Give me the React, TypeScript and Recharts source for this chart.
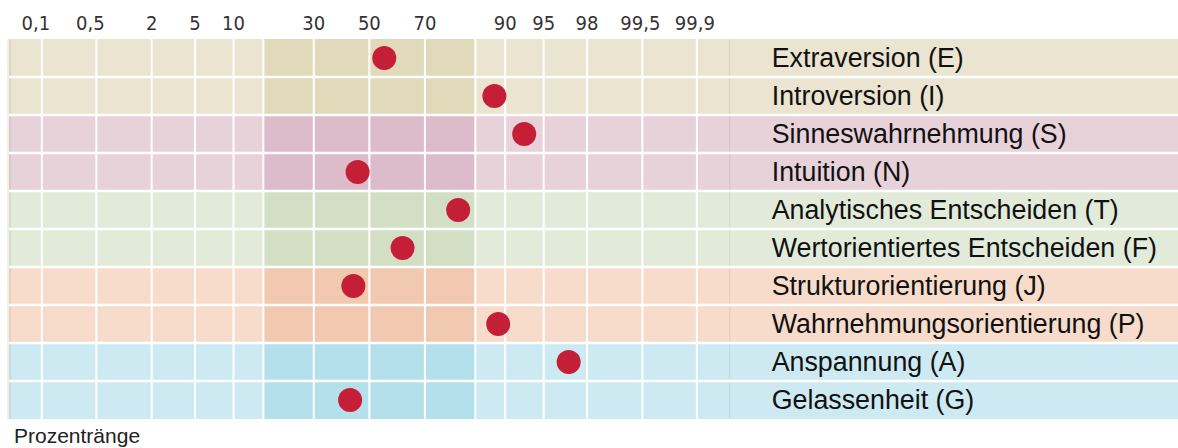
import React from "react";
import {
  ComposedChart,
  XAxis,
  YAxis,
  Scatter,
  ReferenceArea,
  ReferenceLine,
} from "recharts";

// ---- data ----
const traits = [
  "Extraversion (E)",
  "Introversion (I)",
  "Sinneswahrnehmung (S)",
  "Intuition (N)",
  "Analytisches Entscheiden (T)",
  "Wertorientiertes Entscheiden (F)",
  "Strukturorientierung (J)",
  "Wahrnehmungsorientierung (P)",
  "Anspannung (A)",
  "Gelassenheit (G)",
];
const percentiles = [55.6, 88.1, 92.8, 45.6, 79.9, 62.3, 44.0, 88.8, 97.0, 42.8];
const tickPercentiles = [0.1, 0.5, 2, 5, 10, 30, 50, 70, 90, 95, 98, 99.5, 99.9];
const tickLabels = ["0,1", "0,5", "2", "5", "10", "30", "50", "70", "90", "95", "98", "99,5", "99,9"];
const bandZ = [-1, 1]; // ±1 SD band
const rowGroups = [0, 0, 1, 1, 2, 2, 3, 3, 4, 4];
const lightColors = ["#EAE4D0", "#E8D2DA", "#E2EBDA", "#F7DCCC", "#CDEAF2"];
const darkColors = ["#E0D9BA", "#DCBBCA", "#D2DFC4", "#F1C9B1", "#B4E0EB"];

// probit (inverse normal CDF, Acklam)
function probit(pct: number): number {
  const p = pct / 100;
  const a = [-39.69683028665376, 220.9460984245205, -275.9285104469687, 138.357751867269, -30.66479806614716, 2.506628277459239];
  const b = [-54.47609879822406, 161.5858368580409, -155.6989798598866, 66.80131188771972, -13.28068155288572];
  const c = [-0.007784894002430293, -0.3223964580411365, -2.400758277161838, -2.549732539343734, 4.374664141464968, 2.938163982698783];
  const d = [0.007784695709041462, 0.3224671290700398, 2.445134137142996, 3.754408661907416];
  const pl = 0.02425;
  if (p < pl) {
    const q = Math.sqrt(-2 * Math.log(p));
    return (((((c[0] * q + c[1]) * q + c[2]) * q + c[3]) * q + c[4]) * q + c[5]) /
      ((((d[0] * q + d[1]) * q + d[2]) * q + d[3]) * q + 1);
  }
  if (p > 1 - pl) {
    const q = Math.sqrt(-2 * Math.log(1 - p));
    return -(((((c[0] * q + c[1]) * q + c[2]) * q + c[3]) * q + c[4]) * q + c[5]) /
      ((((d[0] * q + d[1]) * q + d[2]) * q + d[3]) * q + 1);
  }
  const q = p - 0.5;
  const r = q * q;
  return (((((a[0] * r + a[1]) * r + a[2]) * r + a[3]) * r + a[4]) * r + a[5]) * q /
    (((((b[0] * r + b[1]) * r + b[2]) * r + b[3]) * r + b[4]) * r + 1);
}

const GRID_MIN = -3.4;
const GRID_MAX = 3.4;
const AXIS_MAX = 7.63; // right part of the axis hosts the label panel

const tickZ = tickPercentiles.map(probit);
const points = percentiles.map((p, i) => ({ x: probit(p), y: i + 0.5, name: traits[i] }));
const labelPoints = traits.map((t, i) => ({ x: GRID_MAX, y: i + 0.5, name: t }));

const XTick = (props: any) => {
  const { x, payload, index } = props;
  const label = tickLabels[index] ?? String(payload.value);
  const shift = index < 2 ? -6 : label.includes(",") ? -2 : 0;
  return (
    <text
      x={x + shift}
      y={30}
      textAnchor="middle"
      fontFamily="'DejaVu Sans Condensed', 'DejaVu Sans', sans-serif"
      fontSize={20}
      fill="#333"
    >
      {label}
    </text>
  );
};

const LabelShape = (p: any) => (
  <text
    x={p.cx + 42}
    y={p.cy}
    dy={9}
    textAnchor="start"
    fontFamily="'Liberation Sans', Arial, sans-serif"
    fontSize={26.8}
    fill="#111"
  >
    {p.payload?.name}
  </text>
);

export default function App() {
  return (
    <div style={{ position: "absolute", left: 0, top: 0, width: 1178, height: 448, background: "#fff" }}>
      <ComposedChart
        width={1178}
        height={448}
        margin={{ top: 0, right: 0, bottom: 29, left: 9 }}
      >
        <XAxis
          type="number"
          dataKey="x"
          orientation="top"
          height={39}
          domain={[GRID_MIN, AXIS_MAX]}
          ticks={tickZ}
          interval={0}
          allowDataOverflow
          axisLine={false}
          tickLine={false}
          tick={<XTick />}
        />
        <YAxis type="number" dataKey="y" domain={[0, 10]} reversed hide width={0} />
        {traits.map((t, i) => {
          const g = rowGroups[i];
          return (
            <React.Fragment key={t}>
              <ReferenceArea x1={GRID_MIN} x2={bandZ[0]} y1={i} y2={i + 1} fill={lightColors[g]} fillOpacity={1} stroke="none" />
              <ReferenceArea x1={bandZ[0]} x2={bandZ[1]} y1={i} y2={i + 1} fill={darkColors[g]} fillOpacity={1} stroke="none" />
              <ReferenceArea x1={bandZ[1]} x2={AXIS_MAX} y1={i} y2={i + 1} fill={lightColors[g]} fillOpacity={1} stroke="none" />
            </React.Fragment>
          );
        })}
        <ReferenceLine x={GRID_MIN} stroke="rgba(140,120,70,0.12)" strokeWidth={4} />
        <ReferenceLine x={GRID_MAX} stroke="rgba(100,90,60,0.12)" strokeWidth={1} />
        {[...tickZ, ...bandZ].map((z, i) => (
          <ReferenceLine key={"v" + i} x={z} stroke="#fff" strokeWidth={2} />
        ))}
        {traits.slice(1).map((t, i) => (
          <ReferenceLine key={"h" + i} y={i + 1} stroke="#fff" strokeWidth={2.5} />
        ))}
        <Scatter
          data={points}
          dataKey="y"
          isAnimationActive={false}
          shape={(p: any) => <circle cx={p.cx} cy={p.cy} r={12} fill="#C41F36" />}
        />
        <Scatter
          data={labelPoints}
          dataKey="y"
          isAnimationActive={false}
          shape={LabelShape}
        />
      </ComposedChart>
      <div
        style={{
          position: "absolute",
          left: 14,
          top: 425,
          fontFamily: "'Liberation Sans', Arial, sans-serif",
          fontSize: 21,
          lineHeight: "21px",
          color: "#222",
        }}
      >
        Prozentränge
      </div>
    </div>
  );
}
